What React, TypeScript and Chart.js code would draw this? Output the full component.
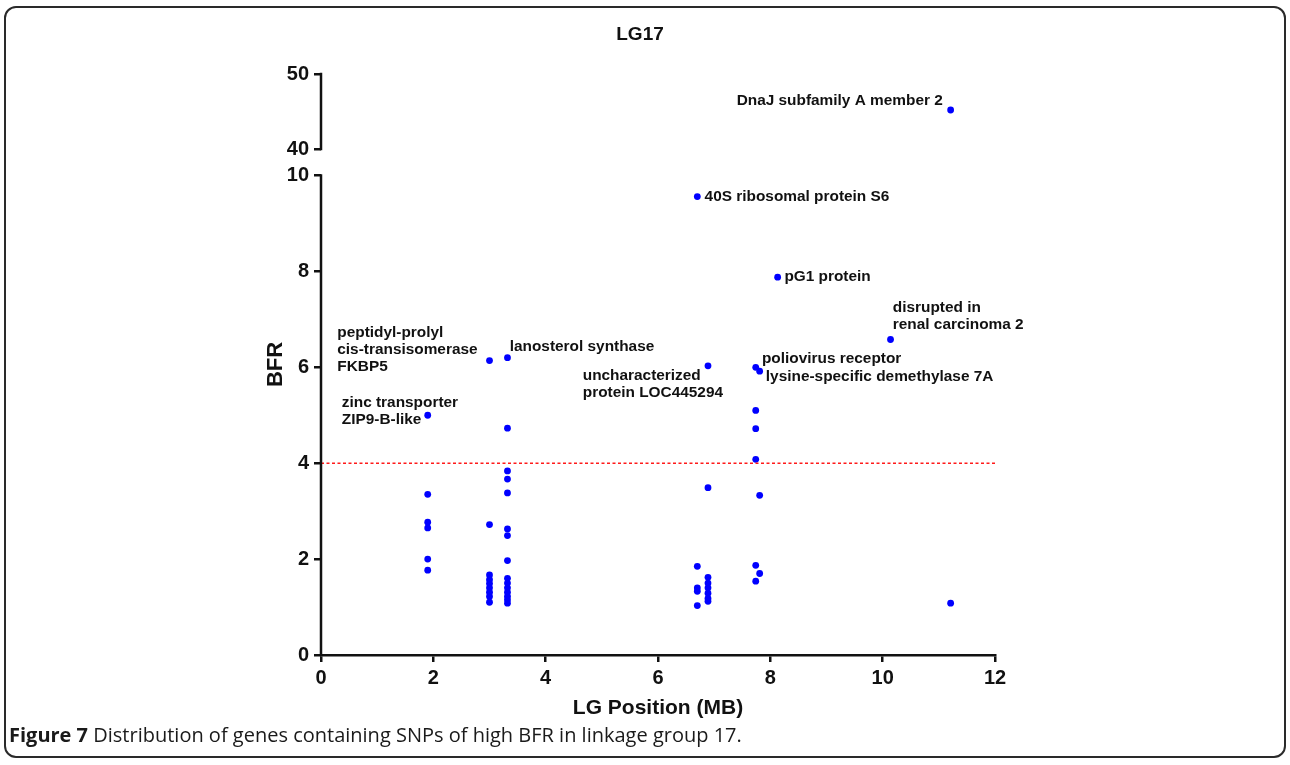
import React, { useEffect, useRef } from "react";
import { Chart, registerables } from "chart.js";

Chart.register(...registerables);

// ---- data ----
const lgPosition = [
  1.9, 1.9, 1.9, 1.9, 1.9, 1.9,
  3.0, 3.0, 3.0, 3.0, 3.0, 3.0, 3.0, 3.0, 3.0,
  3.32, 3.32, 3.32, 3.32, 3.32, 3.32, 3.32, 3.32, 3.32, 3.32, 3.32, 3.32, 3.32, 3.32, 3.32,
  6.7, 6.7, 6.7, 6.7, 6.7,
  6.89, 6.89, 6.89, 6.89, 6.89, 6.89, 6.89, 6.89,
  7.74, 7.74, 7.74, 7.74, 7.74, 7.74,
  7.81, 7.81, 7.81,
  8.13,
  10.14,
  11.21, 11.21,
];
const bfrValues = [
  5.0, 3.35, 2.77, 2.65, 2.0, 1.77,
  6.14, 2.72, 1.67, 1.57, 1.49, 1.4, 1.31, 1.22, 1.1,
  6.2, 4.73, 3.84, 3.67, 3.38, 2.63, 2.49, 1.97, 1.6, 1.5, 1.4, 1.31, 1.22, 1.15, 1.08,
  9.56, 1.85, 1.4, 1.33, 1.03,
  6.03, 3.49, 1.62, 1.5, 1.4, 1.29, 1.18, 1.12,
  6.0, 5.1, 4.72, 4.08, 1.87, 1.54,
  5.92, 3.33, 1.7,
  7.88,
  6.58,
  45.2, 1.08,
];
const thresholdX = [0, 12];
const thresholdY = [4, 4];
const yTickValues = [0, 2, 4, 6, 8, 10, 40, 50];
const xTickValues = [0, 2, 4, 6, 8, 10, 12];

// gene labels: text lines anchored in data coordinates
const geneLabels = [
  { lines: ["DnaJ subfamily A member 2"], x: 11.07, y: 46.4, align: "right" },
  { lines: ["40S ribosomal protein S6"], x: 6.83, y: 9.55, align: "left" },
  { lines: ["pG1 protein"], x: 8.25, y: 7.88, align: "left" },
  { lines: ["disrupted in", "renal carcinoma 2"], x: 10.18, y: 7.24, align: "left" },
  { lines: ["peptidyl-prolyl", "cis-transisomerase", "FKBP5"], x: 0.29, y: 6.715, align: "left" },
  { lines: ["lanosterol synthase"], x: 3.36, y: 6.42, align: "left" },
  { lines: ["poliovirus receptor"], x: 7.85, y: 6.17, align: "left" },
  { lines: ["lysine-specific demethylase 7A"], x: 7.92, y: 5.8, align: "left" },
  { lines: ["uncharacterized", "protein LOC445294"], x: 4.66, y: 5.82, align: "left" },
  { lines: ["zinc transporter", "ZIP9-B-like"], x: 0.37, y: 5.255, align: "left" },
];

// ---- broken y axis mapping ----
const BREAK_LOW = 10;
const BREAK_HIGH = 40;
const AXIS_TOP = 50;
const GAP = 0.553;
const UPPER_SCALE = 0.1564;
const toAxis = (v: number) =>
  v <= BREAK_LOW ? v : BREAK_LOW + GAP + (v - BREAK_HIGH) * UPPER_SCALE;
const fromAxis = (a: number) =>
  a <= BREAK_LOW + 1e-6 ? a : BREAK_HIGH + (a - BREAK_LOW - GAP) / UPPER_SCALE;

const FONT = "'Liberation Sans', Arial, sans-serif";
const INK = "#111111";

export default function App() {
  const canvasRef = useRef<HTMLCanvasElement | null>(null);

  useEffect(() => {
    const canvas = canvasRef.current;
    if (!canvas) return;

    const points = lgPosition.map((x, i) => ({ x, y: toAxis(bfrValues[i]) }));
    const threshold = thresholdX.map((x, i) => ({ x, y: toAxis(thresholdY[i]) }));

    const overlay = {
      id: "overlay",
      afterDraw(chart: any) {
        const ctx = chart.ctx;
        const xs = chart.scales.x;
        const ys = chart.scales.y;
        const area = chart.chartArea;
        ctx.save();
        // y axis line segments
        ctx.strokeStyle = INK;
        ctx.lineWidth = 2.5;
        ctx.lineCap = "butt";
        const segs = [
          [0, BREAK_LOW],
          [BREAK_HIGH, AXIS_TOP],
        ];
        segs.forEach(([a, b]) => {
          ctx.beginPath();
          ctx.moveTo(area.left, ys.getPixelForValue(toAxis(a)) + 1.25);
          ctx.lineTo(area.left, ys.getPixelForValue(toAxis(b)) - 1.25);
          ctx.stroke();
        });

        // title
        ctx.fillStyle = INK;
        ctx.textAlign = "center";
        ctx.textBaseline = "middle";
        ctx.font = `bold 19px ${FONT}`;
        ctx.fillText("LG17", 640, 35);

        // axis titles
        ctx.font = `bold 21px ${FONT}`;
        ctx.fillText("LG Position (MB)", (area.left + area.right) / 2, 708);
        ctx.save();
        ctx.translate(276, (area.top + area.bottom) / 2);
        ctx.rotate(-Math.PI / 2);
        ctx.font = `bold 22px ${FONT}`;
        ctx.fillText("BFR", 0, 0);
        ctx.restore();

        // gene labels
        ctx.font = `bold 15.4px ${FONT}`;
        geneLabels.forEach((lab) => {
          const px = xs.getPixelForValue(lab.x);
          const py = ys.getPixelForValue(toAxis(lab.y));
          ctx.textAlign = lab.align as CanvasTextAlign;
          lab.lines.forEach((line, i) => {
            ctx.fillText(line, px, py + i * 17);
          });
        });
        ctx.restore();
      },
    };

    const chart = new Chart(canvas, {
      type: "scatter",
      data: {
        datasets: [
          {
            type: "line",
            data: threshold,
            borderColor: "#ff1a1a",
            borderWidth: 1.5,
            borderDash: [3, 2.5],
            pointRadius: 0,
            fill: false,
          } as any,
          {
            data: points,
            backgroundColor: "#0000ff",
            borderWidth: 0,
            pointRadius: 3.4,
            clip: false,
          } as any,
        ],
      },
      options: {
        animation: false,
        responsive: false,
        maintainAspectRatio: false,
        layout: { padding: { left: 201, right: 295, top: 74, bottom: 30 } },
        plugins: {
          legend: { display: false },
          tooltip: { enabled: false },
          title: { display: false },
        },
        scales: {
          x: {
            type: "linear",
            min: 0,
            max: 12,
            afterFit: (s: any) => {
              s.height = 80;
            },
            afterBuildTicks: (s: any) => {
              s.ticks = xTickValues.map((v) => ({ value: v }));
            },
            grid: {
              display: true,
              drawOnChartArea: false,
              drawTicks: true,
              tickLength: 7,
              color: INK,
              lineWidth: 2.5,
            },
            border: { display: true, color: INK, width: 2.5 },
            ticks: {
              color: INK,
              padding: 4,
              maxRotation: 0,
              font: { family: FONT, size: 20, weight: "bold" },
            },
          },
          y: {
            type: "linear",
            min: 0,
            max: toAxis(AXIS_TOP),
            afterFit: (s: any) => {
              s.width = 120;
            },
            afterBuildTicks: (s: any) => {
              s.ticks = yTickValues.map((v) => ({ value: toAxis(v) }));
            },
            grid: {
              display: true,
              drawOnChartArea: false,
              drawTicks: true,
              tickLength: 7,
              color: INK,
              lineWidth: 2.5,
            },
            border: { display: false },
            ticks: {
              color: INK,
              padding: 5,
              font: { family: FONT, size: 20, weight: "bold" },
              callback: (value: any) => String(Math.round(fromAxis(Number(value)))),
            },
          },
        },
      } as any,
      plugins: [overlay],
    });

    return () => chart.destroy();
  }, []);

  return (
    <div
      style={{
        position: "absolute",
        left: 0,
        top: 0,
        width: 1290,
        height: 765,
        background: "#ffffff",
        overflow: "hidden",
      }}
    >
      <div
        style={{
          position: "absolute",
          left: 4,
          top: 6,
          width: 1278,
          height: 748,
          border: "2px solid #2a2a2a",
          borderRadius: 12,
        }}
      />
      <canvas
        ref={canvasRef}
        width={1290}
        height={765}
        style={{ position: "absolute", left: 0, top: 0, width: 1290, height: 765 }}
      />
      <div
        style={{
          position: "absolute",
          left: 9,
          top: 722,
          fontFamily: "'Open Sans', 'Noto Sans', sans-serif",
          fontSize: 20,
          color: "#1a1a1a",
          whiteSpace: "nowrap",
          lineHeight: "26px",
        }}
      >
        <b>Figure 7</b> Distribution of genes containing SNPs of high BFR in linkage group 17.
      </div>
    </div>
  );
}
